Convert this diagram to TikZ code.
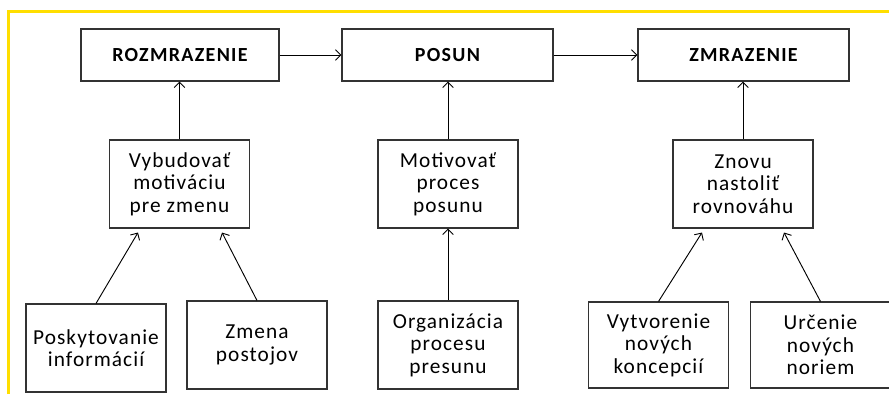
\documentclass[tikz,border=0pt]{standalone}
\usepackage{fontspec}
\setmainfont{Carlito}
\usetikzlibrary{arrows.meta,calc}
\definecolor{frameyellow}{RGB}{255,222,0}

\begin{document}
\begin{tikzpicture}[x=0.75pt,y=-0.75pt,
    phase/.style={draw=black!80,line width=0.8pt,inner sep=0pt,
      minimum width=158.25pt,minimum height=39pt,
      font=\bfseries\fontsize{15}{16}\selectfont\addfontfeatures{LetterSpace=6.5}},
    task/.style={draw=black!80,line width=0.8pt,inner sep=0pt,align=center,
      minimum width=105pt,minimum height=66pt,
      font=\fontsize{16}{16.8}\selectfont\addfontfeatures{LetterSpace=5}},
    link/.style={line width=0.7pt,-{Straight Barb[length=4pt,width=8pt]}}]
    % Page
    \path[use as bounding box,fill=white] (0,0) rectangle (889,394);
    \clip (0,0) rectangle (889,394);
    \draw[frameyellow,line width=2.25pt] (8,394) -- (8,11.5) -- (889,11.5);

    % Phases
    \node[phase,minimum width=148.5pt] (rozm) at (180,55) {ROZMRAZENIE};
    \node[phase] (posun) at (447.5,55) {POSUN};
    \node[phase] (zmraz) at (743.5,55) {ZMRAZENIE};

    % Goals
    \node[task] (vyb) at (179.5,184) {Vybudovať\\motiváciu\\pre zmenu};
    \node[task] (motiv) at (448,184) {Motivovať\\proces\\posunu};
    \node[task] (znovu) at (743,184) {Znovu\\nastoliť\\rovnováhu};

    % Steps
    \node[task] (posk) at (96,348) {Poskytovanie\\informácií};
    \node[task] (zmena) at (257,345) {Zmena\\postojov};
    \node[task] (organ) at (448,345) {Organizácia\\procesu\\presunu};
    \node[task,minimum height=64.5pt] (vytv) at (658.5,345) {Vytvorenie\\nových\\koncepcií};
    \node[task,minimum height=64.5pt] (urc) at (820.5,345) {Určenie\\nových\\noriem};

    % Links
    \draw[link] (rozm.east) -- (posun.west);
    \draw[link] (posun.east) -- (zmraz.west);
    \draw[link] (vyb.north) -- (vyb.north |- rozm.south);
    \draw[link] (motiv.north) -- (motiv.north |- posun.south);
    \draw[link] (znovu.north) -- (znovu.north |- zmraz.south);
    \draw[link] (posk.north) -- ($(vyb.south)+(-41.5,4)$);
    \draw[link] (zmena.north) -- ($(vyb.south)+(42.5,4)$);
    \draw[link] (organ.north) -- (motiv.south);
    \draw[link] (vytv.north) -- ($(znovu.south)+(-41,4)$);
    \draw[link] (urc.north) -- ($(znovu.south)+(41,4)$);
\end{tikzpicture}
\end{document}
